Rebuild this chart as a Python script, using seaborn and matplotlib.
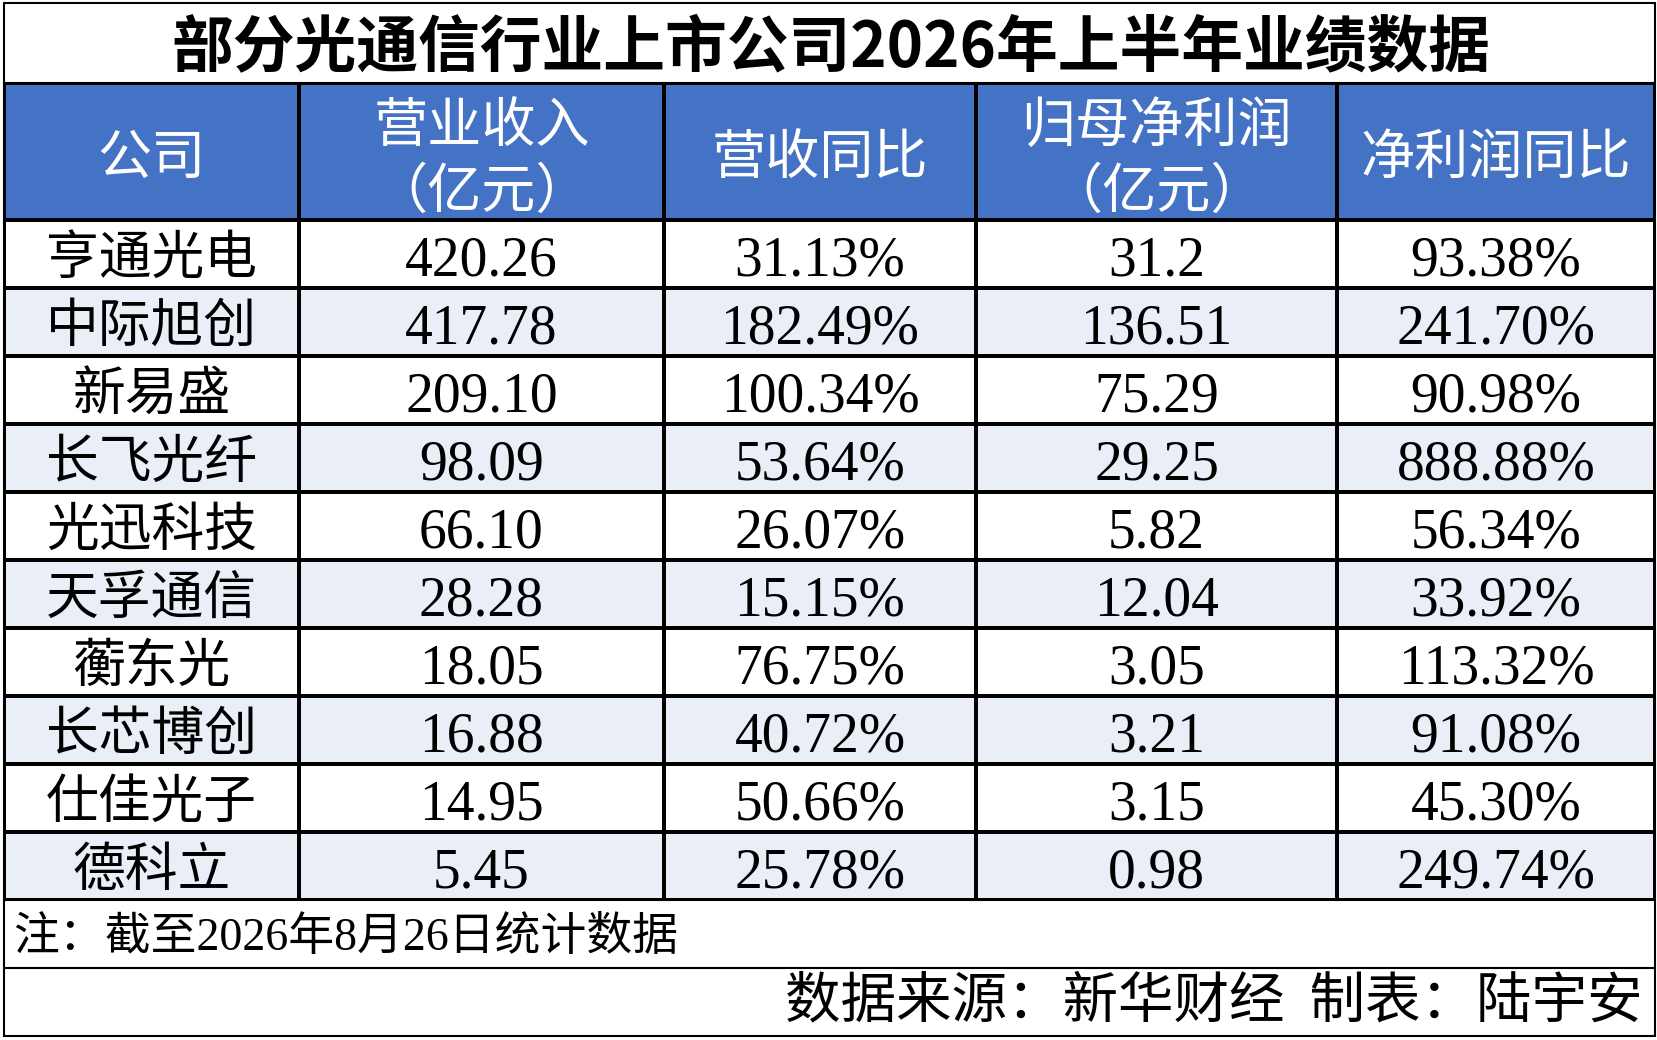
import numpy as np
import matplotlib
matplotlib.use("Agg")
import matplotlib.pyplot as plt
import seaborn as sns
from matplotlib.colors import ListedColormap

# ---------------- data ----------------
title = "部分光通信行业上市公司2026年上半年业绩数据"
headers = ["公司", "营业收入\n（亿元）", "营收同比", "归母净利润\n（亿元）", "净利润同比"]
companies = ["亨通光电", "中际旭创", "新易盛", "长飞光纤", "光迅科技",
             "天孚通信", "蘅东光", "长芯博创", "仕佳光子", "德科立"]
revenue = ["420.26", "417.78", "209.10", "98.09", "66.10",
           "28.28", "18.05", "16.88", "14.95", "5.45"]
revenue_yoy = ["31.13%", "182.49%", "100.34%", "53.64%", "26.07%",
               "15.15%", "76.75%", "40.72%", "50.66%", "25.78%"]
net_profit = ["31.2", "136.51", "75.29", "29.25", "5.82",
              "12.04", "3.05", "3.21", "3.15", "0.98"]
profit_yoy = ["93.38%", "241.70%", "90.98%", "888.88%", "56.34%",
              "33.92%", "113.32%", "91.08%", "45.30%", "249.74%"]
note = "注：截至2026年8月26日统计数据"
source = "数据来源：新华财经  制表：陆宇安"

# ---------------- style ----------------
sns.set_theme(style="white")
plt.rcParams["font.family"] = ["Noto Sans CJK SC", "DejaVu Sans"]

W, H = 1658, 1040
fig = plt.figure(figsize=(W / 100, H / 100), dpi=100)
fig.patch.set_facecolor("white")

col_px = [4, 299, 664, 976, 1337, 1655]
row_px = [83, 220] + [220 + 68 * k for k in range(1, len(companies) + 1)]

ax = fig.add_axes([col_px[0] / W, 1 - row_px[-1] / H,
                   (col_px[-1] - col_px[0]) / W, (row_px[-1] - row_px[0]) / H])

ncol = len(headers)
shade = np.array([[2] * ncol] + [[i % 2] * ncol for i in range(len(companies))])
cmap = ListedColormap(["#FFFFFF", "#E9EEF7", "#4472C4"])
sns.heatmap(shade, ax=ax, cmap=cmap, vmin=0, vmax=2, cbar=False,
            linewidths=1.5, linecolor="black",
            xticklabels=False, yticklabels=False)

xi = np.arange(len(col_px))
yi = np.arange(len(row_px))
ax.set_xscale("function", functions=(lambda v: np.interp(v, xi, col_px),
                                     lambda p: np.interp(p, col_px, xi)))
ax.set_yscale("function", functions=(lambda v: np.interp(v, yi, row_px),
                                     lambda p: np.interp(p, row_px, yi)))
ax.set_xlim(0, ncol)
ax.set_ylim(len(companies) + 1, 0)
ax.set_xticks([])
ax.set_yticks([])
ax.minorticks_off()
for s in ax.spines.values():
    s.set_visible(False)

# header texts
for j, h in enumerate(headers):
    lines = h.split("\n")
    if len(lines) == 1:
        ax.text(j + 0.5, 0.55, lines[0], color="white", fontsize=39,
                ha="center", va="center")
    else:
        ax.text(j + 0.5, 0.32, lines[0], color="white", fontsize=39,
                ha="center", va="center")
        ax.text(j + 0.5, 0.80, lines[1], color="white", fontsize=39,
                ha="center", va="center")

# body texts
num_family = ["Liberation Serif", "Noto Sans CJK SC"]
columns = [revenue, revenue_yoy, net_profit, profit_yoy]
for i, name in enumerate(companies):
    r = i + 1
    ax.text(0.5, r + 0.57, name, color="black", fontsize=38,
            ha="center", va="center")
    for j, col in enumerate(columns):
        ax.text(j + 1.5, r + 0.81, col[i], color="black", fontsize=40,
                family=num_family, ha="center", va="baseline")

# overlay: title, note, source and frame
ov = fig.add_axes([0, 0, 1, 1])
ov.set_xlim(0, W)
ov.set_ylim(H, 0)
ov.axis("off")
ov.patch.set_alpha(0)

lw = 1.5
left, right, top, bottom = 4, 1655, 3, 1036
ov.plot([left, right, right, left, left], [top, top, bottom, bottom, top],
        color="black", lw=lw, solid_joinstyle="miter")
for y in (row_px[0], row_px[-1], 968):
    ov.plot([left, right], [y, y], color="black", lw=lw)

ov.text(831, 49, title, fontsize=44.5, fontweight="bold", color="black",
        ha="center", va="center")
ov.text(13, 938, note, fontsize=33, family=num_family, color="black",
        ha="left", va="center")
ov.text(1643, 1002, source, fontsize=40, color="black",
        ha="right", va="center")

fig.savefig("out.png", dpi=100, facecolor="white")
